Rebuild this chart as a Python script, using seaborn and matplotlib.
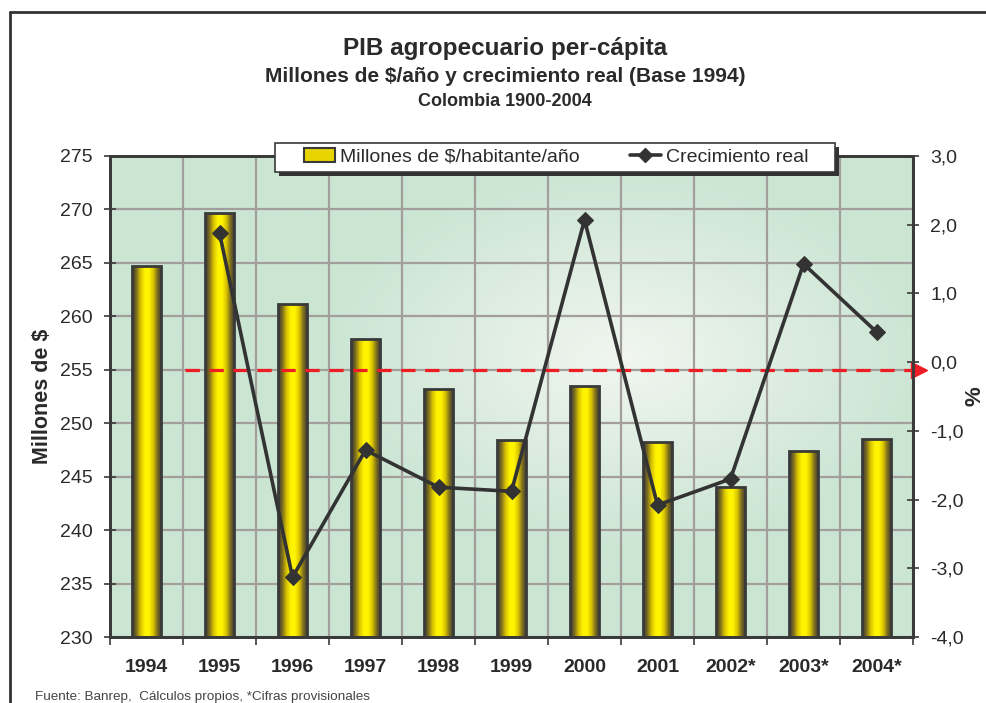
import numpy as np
import matplotlib
matplotlib.use("Agg")
import matplotlib.pyplot as plt
from matplotlib.colors import LinearSegmentedColormap, to_rgb
from matplotlib.patches import Patch, Rectangle
from matplotlib.lines import Line2D
import seaborn as sns

# Datos
years = ["1994", "1995", "1996", "1997", "1998", "1999", "2000", "2001", "2002*", "2003*", "2004*"]
pib_pc = [264.7, 269.7, 261.2, 257.9, 253.2, 248.4, 253.5, 248.2, 244.0, 247.4, 248.5]
growth_years = years[1:]
growth = [1.88, -3.13, -1.28, -1.82, -1.88, 2.07, -2.08, -1.70, 1.43, 0.44]
ref_level = 255  # linea roja punteada

left_ticks = list(range(230, 280, 5))
right_ticks = list(range(-4, 4))

sns.set_theme(style="white")
plt.rcParams["font.family"] = ["Liberation Sans", "DejaVu Sans"]

DARK = "#3a3a3a"
TXT = "#2a2a2a"
W, H = 987, 703
fig = plt.figure(figsize=(W / 100, H / 100), dpi=100)
ax = fig.add_axes([110 / W, 1 - 637 / H, 803 / W, 481 / H])

# Fondo con degradado radial
ny, nx = 200, 300
gx, gy = np.meshgrid(np.linspace(0, 1, nx), np.linspace(0, 1, ny))
d = np.sqrt(((gx - 0.64) / 0.75) ** 2 + ((gy - 0.58) / 0.8) ** 2)
t = np.clip(d / 0.5, 0, 1)[..., None]
light = np.array(to_rgb("#f1f6f0"))
edge = np.array(to_rgb("#cbe5d3"))
bg = light * (1 - t) + edge * t

# Barras
sns.barplot(x=years, y=pib_pc, ax=ax, color="#f0e000", width=0.41,
            edgecolor=DARK, linewidth=2, zorder=3)
n = len(years)
ax.set_xlim(-0.5, n - 0.5)
ax.set_ylim(left_ticks[0], left_ticks[-1])
ax.imshow(bg, extent=[-0.5, n - 0.5, left_ticks[0], left_ticks[-1]],
          origin="lower", aspect="auto", zorder=0)

# Degradado en cada barra
bar_cmap = LinearSegmentedColormap.from_list(
    "oro", ["#35332f", "#7d6e20", "#d9c400", "#fff400", "#fff400",
            "#d9c400", "#7d6e20", "#35332f"])
grad = np.linspace(0, 1, 64)[None, :]
for p in list(ax.patches):
    x0, w, h = p.get_x(), p.get_width(), p.get_height()
    p.set_facecolor("none")
    im = ax.imshow(grad, cmap=bar_cmap, extent=[x0, x0 + w, left_ticks[0], h],
                   aspect="auto", zorder=2)
    im.set_clip_path(p)
ax.set_xlim(-0.5, n - 0.5)
ax.set_ylim(left_ticks[0], left_ticks[-1])

# Cuadricula
ax.set_axisbelow(True)
ax.set_yticks(left_ticks)
ax.set_xticks(np.arange(-0.5, n, 1.0), minor=True)
ax.grid(axis="y", which="major", color="#a39e9c", lw=1.6)
ax.grid(axis="x", which="minor", color="#a39e9c", lw=1.6)

# Linea de referencia roja con flecha
ax.plot([0.53, n - 0.5], [ref_level, ref_level], color="#ee1c24", lw=2.3,
        dashes=(4.5, 3), zorder=4, clip_on=False)
ax.plot([n - 0.42], [ref_level], marker=">", color="#ee1c24", ms=12,
        zorder=5, clip_on=False)

# Eje derecho: crecimiento real
ax2 = ax.twinx()
sns.lineplot(x=np.arange(1, n), y=growth, ax=ax2, color="#333333", lw=2.6,
             marker="D", markersize=8, markeredgecolor="#333333")
ax2.set_ylim(right_ticks[0], right_ticks[-1])
ax2.set_yticks(right_ticks)
ax2.set_yticklabels([f"{v:.1f}".replace(".", ",") for v in right_ticks])
ax.set_xlim(-0.5, n - 0.5)

# Ejes y etiquetas
ax.set_xticks(range(n))
ax.set_xticklabels(years, fontsize=14, fontweight="bold", color=TXT)
ax.tick_params(axis="x", which="major", length=0, pad=16)
ax.tick_params(axis="x", which="minor", length=6, width=1.2, color=DARK, direction="out", bottom=True)
ax.tick_params(axis="y", labelsize=14, length=9, width=1.2, color=DARK, direction="inout",
               pad=8, left=True, labelcolor=TXT)
ax2.tick_params(axis="y", labelsize=14, length=9, width=1.2, color=DARK, direction="inout",
                pad=8, right=True, labelcolor=TXT)
ax.set_ylabel("Millones de $", fontsize=15.5, fontweight="bold", labelpad=5, color=TXT)
ax2.set_ylabel("")
fig.text(975 / W, 1 - 396 / H, "%", rotation=90, ha="center", va="center",
         fontsize=16, fontweight="bold", color=TXT)
ax.set_xlabel("")
for a in (ax, ax2):
    for s in a.spines.values():
        s.set_color(DARK)
        s.set_linewidth(2)

# Titulos
fig.text(0.512, 1 - 49 / H, "PIB agropecuario per-cápita", ha="center", va="center",
         fontsize=17.5, fontweight="bold", color=TXT)
fig.text(0.512, 1 - 77 / H, "Millones de $/año y crecimiento real (Base 1994)", ha="center",
         va="center", fontsize=15, fontweight="bold", color=TXT)
fig.text(0.512, 1 - 101 / H, "Colombia 1900-2004", ha="center", va="center",
         fontsize=13, fontweight="bold", color=TXT)
fig.text(35 / W, 1 - 697 / H, "Fuente: Banrep,  Cálculos propios, *Cifras provisionales",
         ha="left", va="center", fontsize=9.7, color="#444444")

# Leyenda: caja con sombra dibujada aparte
fig.add_artist(Rectangle((279 / W, 1 - 176 / H), 560 / W, 29 / H, transform=fig.transFigure,
                         facecolor="#333333", edgecolor="none", zorder=9))
fig.add_artist(Rectangle((275 / W, 1 - 172 / H), 560 / W, 29 / H, transform=fig.transFigure,
                         facecolor="white", edgecolor=DARK, lw=1.2, zorder=9.5))
handles = [Patch(facecolor="#e8d400", edgecolor=DARK, lw=1.5),
           Line2D([], [], color="#333333", lw=2.6, marker="D", markersize=7)]
leg = fig.legend(handles, ["Millones de $/habitante/año", "Crecimiento real"],
                 loc="center", bbox_to_anchor=(556 / W, 1 - 157 / H), ncol=2,
                 fontsize=14, frameon=False, columnspacing=2.6,
                 handlelength=1.6, handletextpad=0.25, borderpad=0.2)
leg.set_zorder(10)
for txt in leg.get_texts():
    txt.set_color(TXT)

# Marco de la figura
fig.add_artist(Line2D([10 / W, 10 / W], [0, 1 - 12 / H], color="#333333", lw=2))
fig.add_artist(Line2D([10 / W, 1], [1 - 12 / H, 1 - 12 / H], color="#333333", lw=2))

fig.savefig("out.png", dpi=100, facecolor="white")
